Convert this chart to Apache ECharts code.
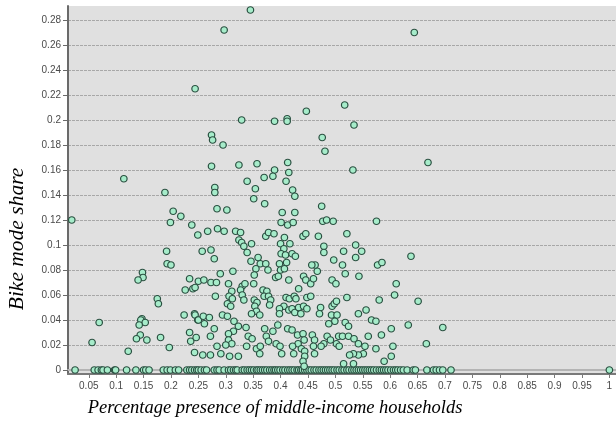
<!DOCTYPE html>
<html>
<head>
<meta charset="utf-8">
<script src="https://cdn.jsdelivr.net/npm/echarts@6/dist/echarts.min.js"></script>
<style>
  html, body { margin: 0; padding: 0; background: #fff; }
  #chart { width: 616px; height: 429px; }
</style>
</head>
<body>
<div id="chart"></div>
<script>
// Tracts with a non-zero bike share: middle-income share (x) and bike mode share (y)
const middleIncomeShare = [
  0.114,0.189,0.244,0.345,0.297,0.644,0.517,0.447,0.329,0.389,0.412,0.412,0.534,
  0.274,0.276,0.295,0.476,0.481,0.274,0.324,0.357,0.413,0.532,0.389,0.415,
  0.370,0.386,0.339,0.410,0.354,0.280,0.280,0.422,0.426,0.351,0.669,
  0.019,0.204,0.218,0.199,0.238,0.249,0.192,0.193,0.200,0.234,0.148,0.149,0.140,0.240,0.244,0.226,
  0.175,0.177,0.069,0.147,0.145,0.153,0.142,0.243,0.244,0.224,0.249,0.144,0.137,0.156,0.181,0.234,
  0.236,0.246,0.056,0.197,0.122,0.243,
  0.284,0.302,0.475,0.371,0.403,0.426,0.401,0.413,0.423,0.477,0.484,0.496,0.575,
  0.267,0.285,0.297,0.318,0.327,0.373,0.378,0.388,0.407,0.441,0.446,0.469,0.521,0.638,
  0.324,0.329,0.333,0.339,0.347,0.257,0.273,0.279,
  0.400,0.406,0.417,0.401,0.409,0.421,0.427,0.411,0.398,
  0.479,0.479,0.515,0.537,0.548,0.537,0.497,0.513,0.577,0.585,
  0.359,0.363,0.355,0.346,0.352,0.373,0.377,0.313,0.290,
  0.391,0.396,0.415,0.400,0.407,
  0.442,0.446,0.455,0.460,0.467,0.463,0.457,0.433,
  0.494,0.501,0.543,0.611,0.518,
  0.250,0.260,0.273,0.283,0.305,0.330,0.327,0.311,0.335,0.351,0.368,0.375,
  0.281,0.306,0.312,0.303,0.309,0.330,0.333,0.370,0.378,
  0.352,0.357,0.353,0.356,0.347,0.362,0.382,0.380,
  0.410,0.416,0.425,0.428,0.448,0.455,
  0.406,0.415,0.421,0.426,0.433,0.437,0.442,0.448,0.398,0.398,0.473,0.471,
  0.494,0.498,0.502,0.493,0.503,0.499,0.521,0.542,0.556,0.566,0.574,0.580,0.608,0.633,0.651,0.696,0.666,
  0.250,0.259,0.270,0.261,0.279,0.272,0.294,0.303,
  0.315,0.323,0.314,0.305,0.305,0.311,0.300,0.291,0.307,0.323,0.284,0.272,
  0.337,0.341,0.348,0.338,0.356,0.363,0.362,
  0.371,0.374,0.386,0.378,0.392,0.399,0.402,0.395,
  0.413,0.421,0.431,0.441,0.443,0.432,0.438,0.444,0.444,0.441,0.443,0.422,0.424,
  0.458,0.462,0.460,0.479,0.462,0.474,
  0.485,0.491,0.506,0.513,0.502,0.507,
  0.524,0.534,0.542,0.554,0.551,0.542,0.533,0.526,0.515,0.533,
  0.574,0.584,0.589,0.605,0.258,
  0.518,0.524,0.488,0.602,0.560,0.602
];
const bikeModeShare = [
  0.153,0.142,0.225,0.288,0.272,0.270,0.212,0.207,0.200,0.199,0.201,0.199,0.196,
  0.188,0.184,0.180,0.186,0.175,0.163,0.164,0.165,0.166,0.160,0.160,0.158,
  0.154,0.155,0.151,0.151,0.145,0.146,0.142,0.144,0.139,0.137,0.166,
  0.120,0.127,0.123,0.118,0.116,0.108,0.095,0.085,0.084,0.073,0.078,0.074,0.072,0.065,0.066,0.064,
  0.057,0.053,0.038,0.041,0.040,0.038,0.036,0.045,0.044,0.044,0.040,0.028,0.025,0.024,0.026,0.030,
  0.023,0.026,0.022,0.018,0.015,0.014,
  0.129,0.128,0.131,0.133,0.126,0.126,0.118,0.116,0.118,0.119,0.120,0.119,0.119,
  0.111,0.113,0.111,0.111,0.110,0.107,0.110,0.109,0.106,0.107,0.109,0.107,0.109,0.091,
  0.104,0.102,0.099,0.094,0.101,0.095,0.096,0.089,
  0.101,0.097,0.101,0.093,0.092,0.093,0.091,0.086,0.085,
  0.099,0.094,0.095,0.100,0.095,0.090,0.088,0.084,0.084,0.086,
  0.090,0.085,0.081,0.087,0.076,0.085,0.080,0.079,0.077,
  0.074,0.075,0.072,0.080,0.081,
  0.075,0.072,0.069,0.073,0.079,0.084,0.084,0.065,
  0.072,0.069,0.075,0.069,0.077,
  0.071,0.072,0.070,0.070,0.069,0.067,0.064,0.063,0.069,0.069,0.064,0.063,
  0.059,0.059,0.057,0.053,0.051,0.060,0.056,0.059,0.059,
  0.056,0.054,0.051,0.047,0.045,0.044,0.056,0.052,
  0.058,0.057,0.059,0.057,0.058,0.059,
  0.051,0.048,0.049,0.046,0.050,0.045,0.051,0.049,0.049,0.045,0.050,0.045,
  0.051,0.053,0.055,0.044,0.044,0.039,0.058,0.045,0.048,0.040,0.039,0.056,0.060,0.036,0.055,0.034,0.021,
  0.040,0.043,0.042,0.037,0.033,0.027,0.044,0.043,
  0.039,0.035,0.031,0.029,0.024,0.021,0.020,0.013,0.011,0.011,0.019,0.012,
  0.034,0.027,0.025,0.019,0.017,0.019,0.013,
  0.033,0.027,0.031,0.023,0.021,0.019,0.013,0.036,
  0.033,0.032,0.028,0.029,0.024,0.021,0.017,0.015,0.011,0.007,0.003,0.019,0.013,
  0.028,0.024,0.019,0.021,0.013,0.019,
  0.027,0.024,0.027,0.027,0.021,0.019,
  0.027,0.025,0.021,0.019,0.013,0.012,0.013,0.012,0.005,0.005,
  0.017,0.028,0.007,0.019,0.012,
  0.038,0.035,0.037,0.033,0.027,0.011
];
// Tracts where nobody cycles (bike mode share = 0)
const zeroShareIncome = [
  0.025,0.060,0.067,0.073,0.076,0.084,0.097,0.099,0.119,0.136,0.150,0.154,0.160,0.186,0.193,0.199,
  0.208,0.214,0.229,0.234,0.238,0.243,0.247,0.250,0.255,0.261,0.265,0.279,0.284,0.288,0.297,0.305,
  0.309,0.314,0.318,0.321,0.330,0.334,0.339,0.343,0.347,0.351,0.356,0.359,0.363,0.367,0.371,0.375,
  0.380,0.384,0.388,0.391,0.395,0.399,0.404,0.408,0.413,0.417,0.421,0.425,0.430,0.433,0.437,0.440,
  0.444,0.448,0.452,0.456,0.461,0.465,0.470,0.474,0.478,0.482,0.486,0.490,0.494,0.498,0.503,0.507,
  0.512,0.516,0.521,0.525,0.530,0.534,0.538,0.542,0.546,0.550,0.554,0.558,0.562,0.566,0.570,0.575,
  0.580,0.584,0.588,0.592,0.596,0.601,0.606,0.610,0.614,0.619,0.624,0.631,0.642,0.646,0.667,0.679,
  0.684,0.690,0.696,0.711,1.0
];
// Axis tick labels
const xTicks = [0.05,0.1,0.15,0.2,0.25,0.3,0.35,0.4,0.45,0.5,0.55,0.6,0.65,0.7,0.75,0.8,0.85,0.9,0.95,1];
const yTicks = [0,0.02,0.04,0.06,0.08,0.1,0.12,0.14,0.16,0.18,0.2,0.22,0.24,0.26,0.28];

const points = [];
zeroShareIncome.forEach(x => points.push([x, 0]));
middleIncomeShare.forEach((x, i) => points.push([x, bikeModeShare[i]]));

const labelFont = { color: '#4a4a4a', fontSize: 10, fontFamily: '"Liberation Sans", Arial, sans-serif' };
const titleStyle = { fill: '#000', fontStyle: 'italic', fontFamily: '"Liberation Serif", "Times New Roman", serif', align: 'center', verticalAlign: 'middle' };

const chart = echarts.init(document.getElementById('chart'), null, { renderer: 'canvas' });
chart.setOption({
  animation: false,
  backgroundColor: '#ffffff',
  grid: { left: 68, top: 6, width: 554, height: 368, backgroundColor: '#e0e0e0', show: true, borderWidth: 0 },
  xAxis: [{
    type: 'value', min: 0.0121, max: 1.0121,
    axisLine: { show: true, onZero: false, lineStyle: { color: '#7a7a7a', width: 2 } },
    axisTick: { show: true, customValues: xTicks, length: 4, lineStyle: { color: '#7a7a7a' } },
    axisLabel: { customValues: xTicks, margin: 7, ...labelFont, formatter: v => String(v) },
    splitLine: { show: false }
  }, {
    type: 'value', position: 'top', min: 0.0121, max: 1.0121,
    axisLine: { show: true, lineStyle: { color: '#b4b4b4', width: 2 } },
    axisTick: { show: false }, axisLabel: { show: false }, splitLine: { show: false }
  }],
  yAxis: {
    type: 'value', min: -0.0032, max: 0.2912,
    axisLine: { show: true, onZero: false, lineStyle: { color: '#6a6a6a', width: 2 } },
    axisTick: { show: true, customValues: yTicks, length: 5, lineStyle: { color: '#6a6a6a' } },
    axisLabel: { customValues: yTicks, margin: 7, ...labelFont, formatter: v => String(v) },
    splitLine: { show: true, lineStyle: { color: '#a8a8a8', width: 1, type: [3, 1] } }
  },
  series: [{
    type: 'scatter',
    xAxisIndex: 0,
    data: points,
    symbol: 'circle',
    symbolSize: 6.5,
    itemStyle: { color: '#a6ecca', borderColor: '#2a4f40', borderWidth: 1.2, opacity: 1 },
    emphasis: { disabled: true }
  }],
  graphic: [
    { type: 'text', x: 275, y: 408, style: { text: 'Percentage presence of middle-income households', fontSize: 18.5, ...titleStyle } },
    { type: 'text', x: 17, y: 239, rotation: Math.PI / 2, style: { text: 'Bike mode share', fontSize: 21.5, ...titleStyle } }
  ]
});
</script>
</body>
</html>
